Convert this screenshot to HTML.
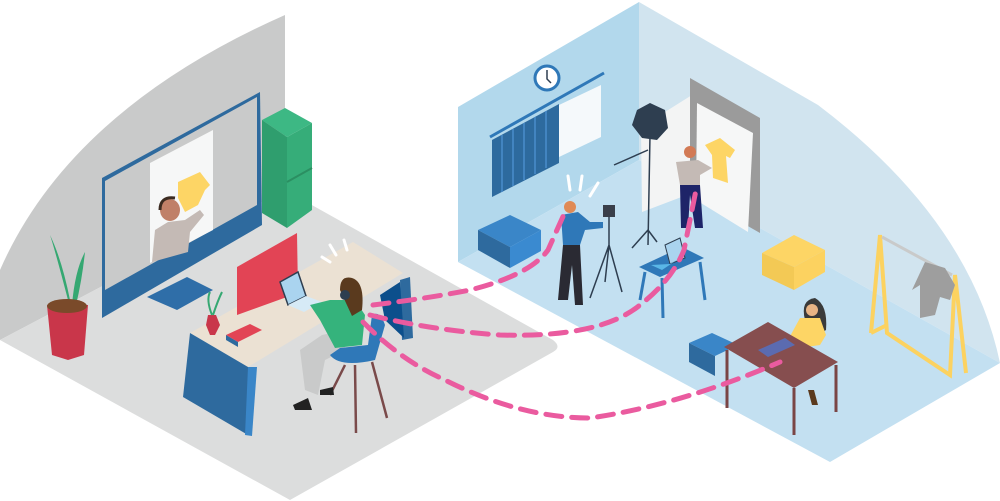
<!DOCTYPE html>
<html><head><meta charset="utf-8"><style>html,body{margin:0;padding:0;background:#fff;width:1000px;height:501px;overflow:hidden}</style></head>
<body>
<svg width="1000" height="501" viewBox="0 0 1000 501" xmlns="http://www.w3.org/2000/svg">
<!-- LEFT ROOM -->
<path d="M0,340 L0,270 Q70,110 285,15 L285,190 Z" fill="#c9caca"/>
<path d="M0,340 L285,190 L553,340 Q562,347 553,352 L290,500 Z" fill="#dcdddd"/>
<!-- monitor -->
<polygon points="147,297 187,277 213,290 177,310" fill="#2f6ea8"/>
<polygon points="102,178 260,92 262,225 102,318" fill="#2e6a9e"/>
<polygon points="105,181 257,97 257,205 105,290" fill="#c9caca"/>
<polygon points="150,163 213,130 213,230 150,263" fill="#f6f7f7"/>
<path d="M178,182 L200,172 L210,185 L205,190 L198,205 L185,212 L178,198 Z" fill="#fdd565"/>
<ellipse cx="170" cy="210" rx="10" ry="11" fill="#c08068"/>
<path d="M160,210 Q160,196 175,198" stroke="#3a2a20" stroke-width="3" fill="none"/>
<path d="M152,262 L155,230 L168,222 L185,220 L200,210 L204,215 L190,232 L188,252 Z" fill="#c4bab5"/>
<!-- cabinet -->
<polygon points="262,120 285,108 312,123 287,137" fill="#3db884"/>
<polygon points="262,120 287,137 287,228 262,213" fill="#2f9e6e"/>
<polygon points="287,137 312,123 312,210 287,228" fill="#36ad79"/>
<line x1="287" y1="182" x2="312" y2="168" stroke="#2b8f62" stroke-width="2"/>
<!-- plant -->
<path d="M68,300 Q55,250 50,235 Q62,260 70,300 Z" fill="#35a872"/>
<path d="M72,305 Q75,270 85,252 Q82,280 76,305 Z" fill="#35a872"/>
<polygon points="47,305 88,305 84,355 68,360 52,355" fill="#c9364a"/>
<ellipse cx="67" cy="306" rx="20" ry="7" fill="#7a4a2a"/>
<!-- desk -->
<polygon points="190,333 353,242 403,273 248,367" fill="#ebe1d3"/>
<polygon points="190,333 248,367 248,435 183,397" fill="#2e6a9e"/>
<polygon points="248,367 257,367 252,436 245,435" fill="#3a86c8"/>
<polygon points="400,280 410,277 413,338 402,340" fill="#2e6a9e"/>
<polygon points="380,295 400,282 404,338 385,320" fill="#0c4f8c"/>
<polygon points="237,267 297,233 298,293 237,315" fill="#e24455"/>
<polygon points="280,282 298,272 306,296 288,305" fill="#aad4ef" stroke="#2e3e50" stroke-width="1.5"/>
<polygon points="288,305 306,296 322,302 304,312" fill="#d6eaf6"/>
<polygon points="226,335 250,324 262,330 238,342" fill="#e24455"/>
<polygon points="226,335 238,342 238,347 226,340" fill="#2e6a9e"/>
<path d="M208,315 L216,315 L220,325 L215,335 L210,335 L206,325 Z" fill="#c9364a"/>
<path d="M212,315 Q206,300 210,292 M213,315 Q218,300 222,292" stroke="#35a872" stroke-width="2" fill="none"/>
<!-- person left -->
<path d="M305,390 L300,350 L322,335 L345,330 L345,350 L325,360 L318,395 Z" fill="#c9caca"/>
<path d="M310,305 L330,300 L355,300 L365,315 L362,345 L335,348 L320,320 Z" fill="#35b37c"/>
<path d="M340,290 Q340,275 352,278 Q365,282 362,310 L352,316 Z" fill="#5a3a1e"/>
<circle cx="345" cy="295" r="5" fill="#2e3e50"/>
<path d="M330,355 Q340,368 375,360 L385,325 Q380,310 372,315 L368,345 L340,348 Z" fill="#2f78b8"/>
<path d="M345,365 L330,395 M355,365 L356,433 M372,362 L387,418" stroke="#7a4a4a" stroke-width="2.5"/>
<path d="M293,405 L308,398 L312,410 L295,410 Z" fill="#222"/>
<path d="M320,390 L333,387 L334,395 L320,395 Z" fill="#222"/>
<g stroke="#fff" stroke-width="3" stroke-linecap="round"><line x1="330" y1="262" x2="322" y2="257"/><line x1="336" y1="255" x2="330" y2="245"/><line x1="347" y1="250" x2="344" y2="240"/></g>
<!-- RIGHT ROOM -->
<polygon points="458,107 639,2 639,160 458,262" fill="#b2d8ec"/>
<path d="M639,2 L818,105 Q970,220 1000,363 L639,160 Z" fill="#d1e4ef"/>
<polygon points="458,262 639,160 1000,363 830,462 Q822,468 814,464" fill="#c3e0f1"/>
<!-- clock, rail, curtains, window -->
<polygon points="559,105 601,85 601,137 559,157" fill="#f5f9fb"/>
<circle cx="547" cy="78" r="12" fill="#fff" stroke="#2f78b8" stroke-width="3"/>
<path d="M547,70 L547,79 L551,83" stroke="#2e3e50" stroke-width="1.5" fill="none"/>
<line x1="490" y1="137" x2="604" y2="73" stroke="#2f78b8" stroke-width="3"/>
<polygon points="492,140 559,104 559,163 492,197" fill="#2d6a9e"/>
<g stroke="#4a8ccc" stroke-width="1.5"><line x1="502" y1="135" x2="502" y2="192"/><line x1="513" y1="129" x2="513" y2="186"/><line x1="524" y1="123" x2="524" y2="180"/><line x1="535" y1="117" x2="535" y2="174"/><line x1="546" y1="111" x2="546" y2="168"/></g>
<!-- backdrop -->
<polygon points="641,127 692,95 692,193 642,212" fill="#f3f4f4"/>
<polygon points="690,78 760,118 760,233 690,193" fill="#9b9b9b"/>
<polygon points="697,103 753,133 748,232 696,200" fill="#f6f7f7"/>
<path d="M705,145 L720,138 L735,150 L730,158 L726,156 L728,183 L713,178 L712,155 Z" fill="#fdd565"/>
<!-- softbox -->
<polygon points="637,110 650,103 665,110 668,128 657,140 642,138 632,125" fill="#2e3e50"/>
<path d="M650,135 L648,245 M648,230 L632,248 M648,230 L657,242 M648,150 L614,165" stroke="#2e3e50" stroke-width="1.5" fill="none"/>
<!-- person at backdrop -->
<circle cx="690" cy="152" r="6" fill="#d27a55"/>
<path d="M676,162 L698,160 L712,168 L700,175 L700,185 L680,185 Z" fill="#c4bab5"/>
<path d="M680,185 L700,185 L703,228 L695,228 L690,195 L688,228 L681,228 Z" fill="#1e2468"/>
<!-- boxes -->
<polygon points="478,230 510,215 541,230 510,247" fill="#3a86c8"/>
<polygon points="478,230 510,247 510,268 478,250" fill="#2e6a9e"/>
<polygon points="510,247 541,230 541,251 510,268" fill="#3a8ad0"/>
<polygon points="762,253 794,235 825,250 794,267" fill="#fdd565"/>
<polygon points="762,253 794,267 794,290 762,275" fill="#f3c955"/>
<polygon points="794,267 825,250 825,272 794,290" fill="#fcd260"/>
<!-- photographer -->
<circle cx="570" cy="207" r="6" fill="#e08a55"/>
<path d="M561,215 L578,212 L590,222 L603,222 L603,228 L585,230 L580,245 L563,245 Z" fill="#2f78b8"/>
<path d="M563,245 L580,245 L583,305 L575,305 L572,265 L568,300 L558,300 Z" fill="#2a2a33"/>
<rect x="603" y="205" width="12" height="12" fill="#3a3f4a"/>
<path d="M609,217 L609,245 M609,245 L590,298 M609,245 L622,292 M609,245 L605,282" stroke="#2e3e50" stroke-width="1.5"/>
<g stroke="#fff" stroke-width="3" stroke-linecap="round"><line x1="570" y1="190" x2="568" y2="176"/><line x1="580" y1="190" x2="582" y2="176"/><line x1="590" y1="196" x2="598" y2="183"/></g>
<!-- small table -->
<polygon points="639,267 682,247 704,258 660,277" fill="#2f78b8"/>
<path d="M645,272 L640,300 M662,278 L663,318 M700,262 L705,300" stroke="#2f78b8" stroke-width="3"/>
<polygon points="665,245 680,238 685,258 670,264" fill="#aad4ef" stroke="#2e3e50" stroke-width="1"/>
<polygon points="651,265 670,264 680,258 662,270" fill="#5ab6e6"/>
<!-- rack -->
<g stroke="#fcd260" stroke-width="4" fill="none"><path d="M871,333 L880,235 L887,333 L950,375 L955,275 L966,373"/><path d="M871,333 L887,325"/></g>
<line x1="882" y1="237" x2="952" y2="275" stroke="#c9caca" stroke-width="3"/>
<path d="M925,262 L945,268 L955,285 L950,300 L940,297 L935,315 L920,318 L920,285 L912,290 Z" fill="#9e9e9e"/>
<!-- bottom desk -->
<polygon points="689,343 712,333 738,345 715,356" fill="#3a86c8"/>
<polygon points="689,343 715,356 715,376 689,362" fill="#2e6a9e"/>
<path d="M805,320 Q800,300 815,298 Q828,305 826,330 L810,340 Z" fill="#3a3a3a"/>
<circle cx="812" cy="310" r="6" fill="#e8b485"/>
<path d="M800,318 L820,318 L826,335 L820,345 L800,348 L788,340 Z" fill="#fdd565"/>
<polygon points="724,347 768,322 838,362 794,388" fill="#864e4f"/>
<path d="M727,350 L727,408 M794,388 L794,435 M836,365 L836,412" stroke="#7a4545" stroke-width="3"/>
<polygon points="758,350 785,338 795,345 768,357" fill="#5b6bb0"/>
<path d="M808,390 L812,405 L818,405 L814,390 Z" fill="#5a3a1e"/>
<!-- dashed connectors -->
<g fill="none" stroke="#ea5b9f" stroke-width="5" stroke-dasharray="16 10" stroke-linecap="round">
<path d="M373,305 Q430,298 470,290 Q530,275 548,250 L565,212"/>
<path d="M370,315 Q430,330 500,335 Q600,338 640,305 Q672,280 684,250 L696,190"/>
<path d="M363,322 Q400,360 445,380 Q520,418 590,418 Q680,405 780,362"/>
</g>
</svg>
</body></html>
